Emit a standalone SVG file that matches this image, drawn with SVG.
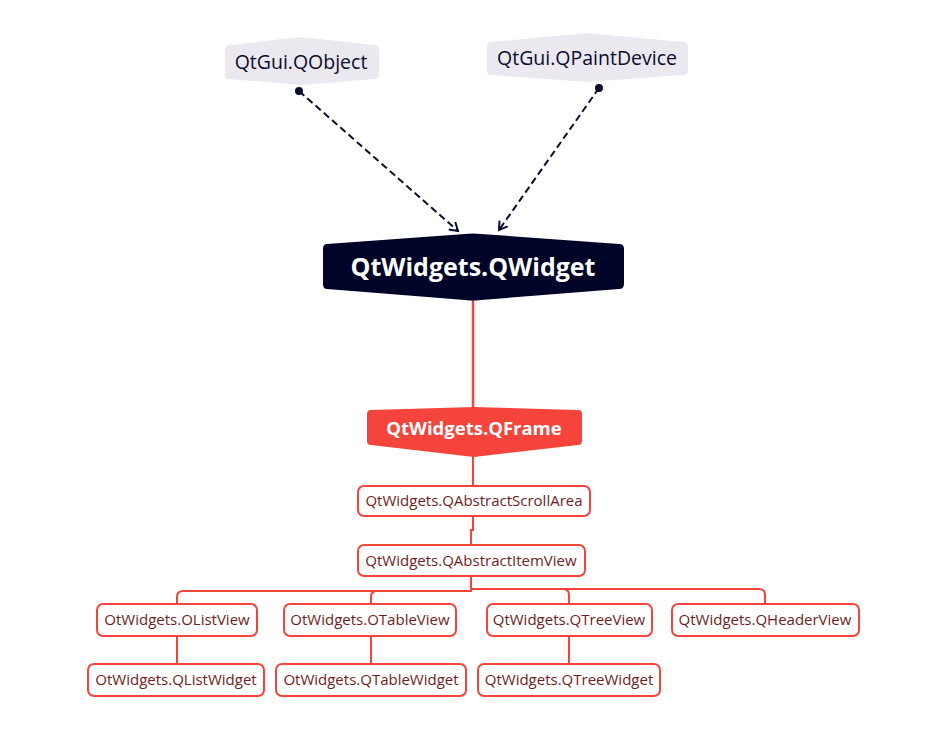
<svg xmlns="http://www.w3.org/2000/svg" width="951" height="732" viewBox="0 0 951 732">
<style>
.gray{fill:#ebe9ef}
.gtxt{font-family:"Open Sans","Liberation Sans",sans-serif;font-size:19.5px;fill:#0b0b2e;text-anchor:middle}
.btxt{font-family:"Open Sans","Liberation Sans",sans-serif;font-weight:bold;fill:#ffffff;text-anchor:middle}
.box{fill:#ffffff;stroke:#f5443b;stroke-width:2}
.rtxt{font-family:"Open Sans","Liberation Sans",sans-serif;font-size:15px;fill:#6e1e22;text-anchor:middle}
.dash{fill:none;stroke:#0b0b2e;stroke-width:2;stroke-dasharray:7 4}
.red{fill:none;stroke:#f5443b;stroke-width:2.5}
.redt{fill:none;stroke:#f5443b;stroke-width:2}
</style>
<defs>
<marker id="dot" markerWidth="10" markerHeight="10" refX="5" refY="5" markerUnits="userSpaceOnUse">
<circle cx="5" cy="5" r="4" fill="#0b0b2e"/>
</marker>
<marker id="arr" markerWidth="14" markerHeight="14" refX="11" refY="7" orient="auto" markerUnits="userSpaceOnUse">
<polyline points="3,2 11,7 3,12" fill="none" stroke="#0b0b2e" stroke-width="2"/>
</marker>
</defs>
<rect width="951" height="732" fill="#ffffff"/>
<g id="connectors">
<path class="dash" d="M299,91 L458,231" marker-start="url(#dot)" marker-end="url(#arr)"/>
<path class="dash" d="M599,88 L499,230" marker-start="url(#dot)" marker-end="url(#arr)"/>
<path class="red" d="M473,300 L473,409"/>
<path class="redt" d="M473,456 L473,486"/>
<path class="redt" d="M473,516 L473,530 L471,530 L471,545"/>
<path class="redt" d="M471,576 L471,591 L183,591 Q177,591 177,597 L177,604"/>
<path class="redt" d="M471,591 L377,591 Q371,591 371,597 L371,604"/>
<path class="redt" d="M471,576 L471,589 L563,589 Q569,589 569,595 L569,604"/>
<path class="redt" d="M563,589 L759,589 Q765,589 765,595 L765,604"/>
<path class="redt" d="M177,636 L177,664"/>
<path class="redt" d="M371,636 L371,664"/>
<path class="redt" d="M569,636 L569,664"/>
</g>
<g id="qobject">
<path class="gray" d="M229,45 L301,37 L374,45 Q379,45 379,50 L379,75 Q379,79 374,79 L301,85 L229,79 Q225,79 225,75 L225,50 Q225,45 229,45 Z"/>
<text class="gtxt" x="301" y="69">QtGui.QObject</text>
</g>
<g id="qpaintdevice">
<path class="gray" d="M491,42 L587,33 L683,42 Q688,42 688,47 L688,71 Q688,75 683,75 L587,82 L491,75 Q487,75 487,71 L487,47 Q487,42 491,42 Z"/>
<text class="gtxt" x="587" y="65">QtGui.QPaintDevice</text>
</g>
<g id="qwidget">
<path fill="#000428" d="M327,244 L465,234 Q473,233 481,234 L619,244 Q624,244 624,249 L624,284 Q624,289 619,289 L481,300 Q473,301 465,300 L327,289 Q323,289 323,284 L323,249 Q323,244 327,244 Z"/>
<text class="btxt" x="473" y="276" font-size="25">QtWidgets.QWidget</text>
</g>
<g id="qframe">
<path fill="#f5443b" d="M371,410 L474,407 L578,410 Q582,410 582,414 L582,441 Q582,445 578,445 L474,457 L371,445 Q367,445 367,441 L367,414 Q367,410 371,410 Z"/>
<text class="btxt" x="474" y="435" font-size="18.5">QtWidgets.QFrame</text>
</g>
<g id="qabstractscrollarea">
<rect class="box" x="358" y="486" width="232" height="30" rx="6"/>
<text class="rtxt" x="474" y="506">QtWidgets.QAbstractScrollArea</text>
</g>
<g id="qabstractitemview">
<rect class="box" x="358" y="545" width="227" height="31" rx="6"/>
<text class="rtxt" x="471" y="566">QtWidgets.QAbstractItemView</text>
</g>
<g id="qlistview">
<rect class="box" x="97" y="604" width="160" height="32" rx="6"/>
<text class="rtxt" x="177" y="625">OtWidgets.OListView</text>
</g>
<g id="qtableview">
<rect class="box" x="284" y="604" width="172" height="32" rx="6"/>
<text class="rtxt" x="370" y="625">OtWidgets.OTableView</text>
</g>
<g id="qtreeview">
<rect class="box" x="487" y="604" width="165" height="32" rx="6"/>
<text class="rtxt" x="569" y="625">QtWidgets.QTreeView</text>
</g>
<g id="qheaderview">
<rect class="box" x="672" y="604" width="187" height="32" rx="6"/>
<text class="rtxt" x="765" y="625">QtWidgets.QHeaderView</text>
</g>
<g id="qlistwidget">
<rect class="box" x="88" y="664" width="176" height="32" rx="6"/>
<text class="rtxt" x="176" y="685">OtWidgets.QListWidget</text>
</g>
<g id="qtablewidget">
<rect class="box" x="276" y="664" width="190" height="32" rx="6"/>
<text class="rtxt" x="371" y="685">OtWidgets.QTableWidget</text>
</g>
<g id="qtreewidget">
<rect class="box" x="478" y="664" width="182" height="32" rx="6"/>
<text class="rtxt" x="569" y="685">QtWidgets.QTreeWidget</text>
</g>
</svg>
